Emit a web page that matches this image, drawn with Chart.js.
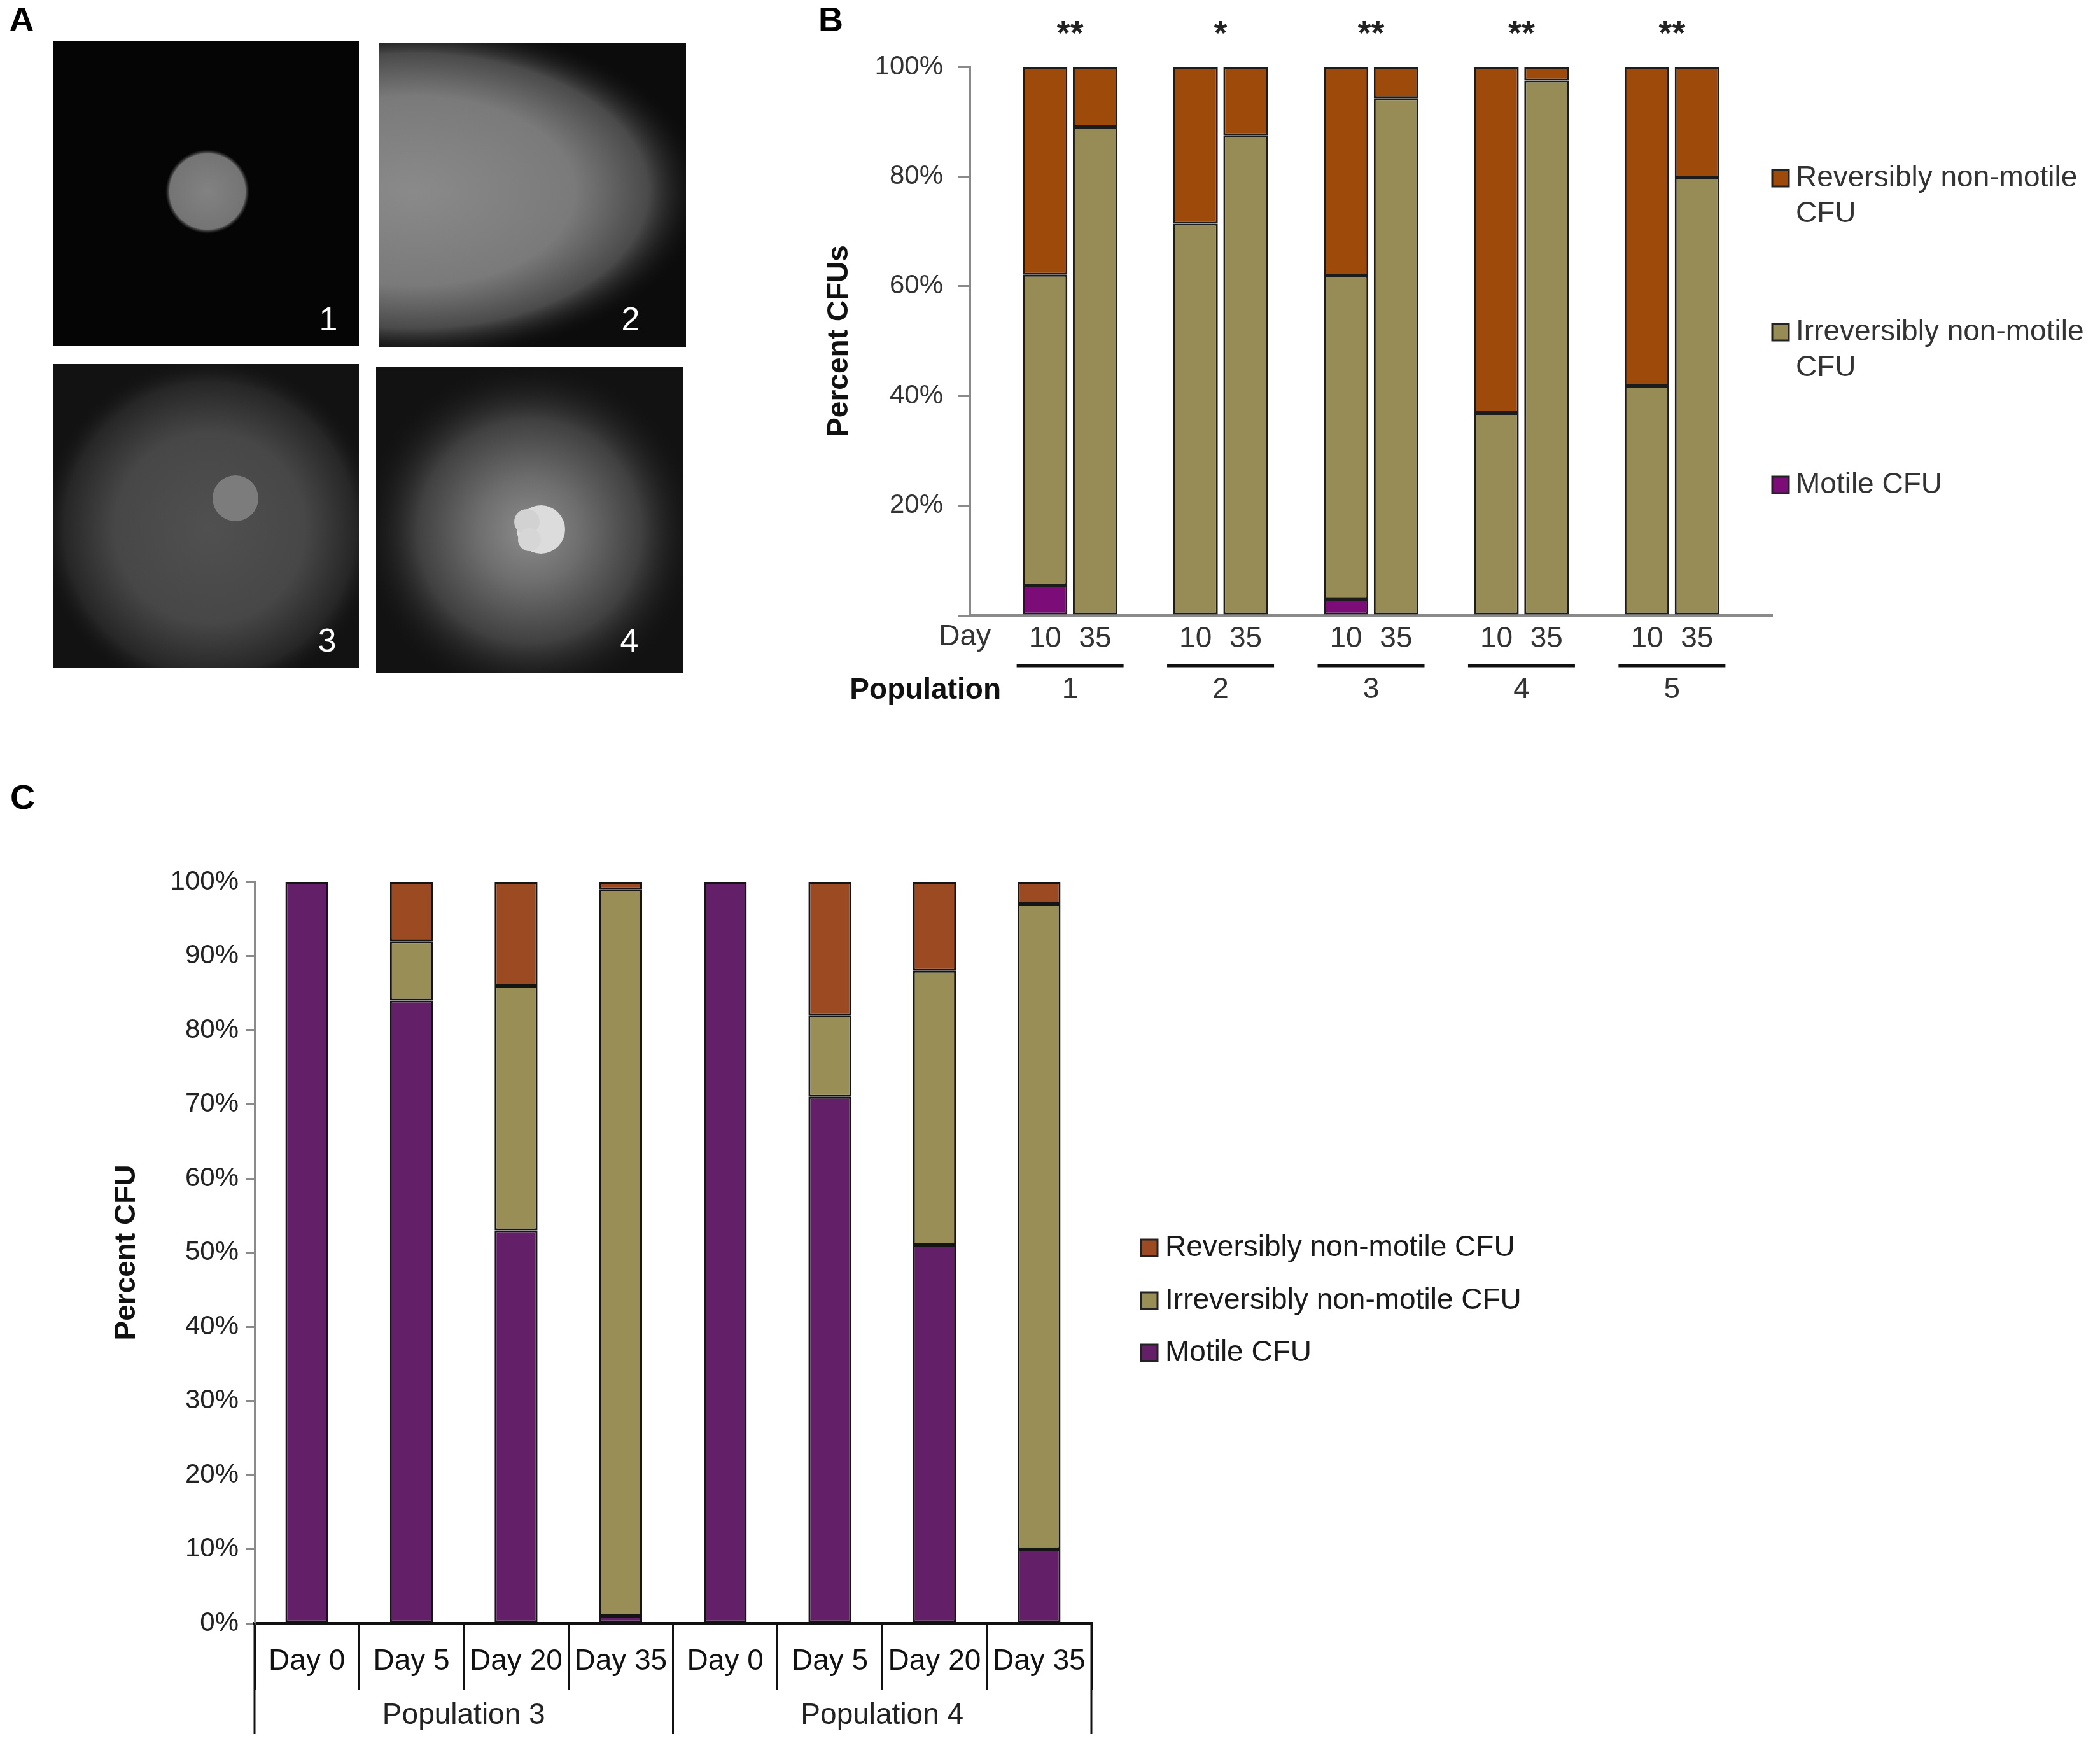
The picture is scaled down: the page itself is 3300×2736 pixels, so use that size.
<!DOCTYPE html>
<html>
<head>
<meta charset="utf-8">
<script src="https://cdn.jsdelivr.net/npm/chart.js@4/dist/chart.umd.min.js"></script>
<style>
  html, body { margin: 0; padding: 0; background: #fff; }
  body { width: 3300px; height: 2736px; position: relative; overflow: hidden; }
  canvas { position: absolute; }
</style>
</head>
<body>
<canvas id="photos" width="1250" height="1120" style="left:0;top:0;width:1250px;height:1120px"></canvas>
<canvas id="chartB" width="2050" height="1150" style="left:1250px;top:0;width:2050px;height:1150px"></canvas>
<canvas id="chartC" width="3300" height="1536" style="left:0;top:1200px;width:3300px;height:1536px"></canvas>
<script>
var FONT = "'Liberation Sans', Arial, sans-serif";

// panel B: populations 1-5, day 10 and day 35 per population
var bPopulations = ["1", "2", "3", "4", "5"];
var bDays = ["10", "35"];
var bStars = ["**", "*", "**", "**", "**"];
var bMotile = [5.5, 0, 0, 0, 3.0, 0, 0, 0, 0, 0];
var bIrreversible = [56.6, 89.0, 71.4, 87.5, 58.9, 94.3, 36.9, 97.5, 41.8, 79.8];
var bReversible = [37.9, 11.0, 28.6, 12.5, 38.1, 5.7, 63.1, 2.5, 58.2, 20.2];

// panel C: populations 3 and 4 over time
var cGroups = ["Population 3", "Population 4"];
var cDays = ["Day 0", "Day 5", "Day 20", "Day 35"];
var cMotile = [100, 84, 53, 1, 100, 71, 51, 10];
var cIrreversible = [0, 8, 33, 98, 0, 11, 37, 87];
var cReversible = [0, 8, 14, 1, 0, 18, 12, 3];

var seriesNames = ["Motile CFU", "Irreversibly non-motile CFU", "Reversibly non-motile CFU"];

// ---------- panel A : plate photos ----------
function drawPhotos() {
    var ctx = document.getElementById("photos").getContext("2d");
    function plate(x, y, w, h, bg, paint) {
        ctx.save();
        ctx.beginPath();
        ctx.rect(x, y, w, h);
        ctx.clip();
        ctx.fillStyle = bg;
        ctx.fillRect(x, y, w, h);
        paint();
        ctx.restore();
    }
    function halo(cx, cy, rx, ry, stops) {
        ctx.save();
        ctx.translate(cx, cy);
        ctx.scale(1, ry / rx);
        var g = ctx.createRadialGradient(0, 0, 0, 0, 0, rx);
        stops.forEach(function (s) { g.addColorStop(s[0], s[1]); });
        ctx.fillStyle = g;
        ctx.beginPath();
        ctx.arc(0, 0, rx, 0, Math.PI * 2);
        ctx.fill();
        ctx.restore();
    }
    function disc(cx, cy, r, col) {
        ctx.fillStyle = col;
        ctx.beginPath();
        ctx.arc(cx, cy, r, 0, Math.PI * 2);
        ctx.fill();
    }

    plate(84, 65, 480, 478, "#050505", function () {
        halo(326, 301, 66, 66, [[0, "#828282"], [0.9, "#747474"], [1, "rgba(60,60,60,0)"]]);
    });
    plate(596, 67, 482, 478, "#0c0c0c", function () {
        halo(650, 300, 460, 270, [[0, "#8a8a8a"], [0.55, "#7a7a7a"], [0.8, "#4a4a4a"], [1, "rgba(12,12,12,0)"]]);
    });
    plate(84, 572, 480, 478, "#121212", function () {
        halo(330, 830, 270, 270, [[0, "#505050"], [0.55, "#474747"], [0.85, "#262626"], [1, "rgba(18,18,18,0)"]]);
        disc(370, 783, 36, "#7c7c7c");
    });
    plate(591, 577, 482, 480, "#121212", function () {
        halo(832, 835, 270, 270, [[0, "#8c8c8c"], [0.3, "#6e6e6e"], [0.65, "#404040"], [1, "rgba(18,18,18,0)"]]);
        disc(850, 832, 38, "#dcdcdc");
        disc(828, 820, 20, "#d2d2d2");
        disc(832, 848, 18, "#d6d6d6");
    });

    ctx.fillStyle = "#fff";
    ctx.font = "52px " + FONT;
    ctx.textAlign = "center";
    ctx.textBaseline = "middle";
    ctx.fillText("1", 516, 505);
    ctx.fillText("2", 991, 505);
    ctx.fillText("3", 514, 1010);
    ctx.fillText("4", 989, 1010);

    ctx.fillStyle = "#000";
    ctx.font = "bold 54px " + FONT;
    ctx.fillText("A", 34, 34);
}
drawPhotos();

// legend drawn at a fixed spot beside the plot
var sideLegend = {
    id: "sideLegend",
    afterDraw: function (chart, args, opts) {
        var ctx = chart.ctx;
        ctx.save();
        ctx.font = opts.size + "px " + FONT;
        ctx.textBaseline = "middle";
        ctx.textAlign = "left";
        var sets = chart.data.datasets.slice().reverse();
        sets.forEach(function (ds, i) {
            var y = opts.rows[i];
            ctx.fillStyle = ds.backgroundColor;
            ctx.fillRect(opts.x, y - opts.box / 2, opts.box, opts.box);
            ctx.strokeStyle = "#222";
            ctx.lineWidth = 3;
            ctx.strokeRect(opts.x, y - opts.box / 2, opts.box, opts.box);
            var lines = [ds.label];
            if (opts.maxWidth && ctx.measureText(ds.label).width > opts.maxWidth) {
                var words = ds.label.split(" ");
                lines = [words.slice(0, -1).join(" "), words[words.length - 1]];
            }
            ctx.fillStyle = opts.color;
            lines.forEach(function (ln, k) {
                ctx.fillText(ln, opts.textX, y + k * opts.lineGap);
            });
        });
        ctx.restore();
    }
};

// ---------- panel B ----------
function spaced(arr) {
    var out = [null];
    for (var p = 0; p < bPopulations.length; p++) {
        for (var d = 0; d < bDays.length; d++) out.push(arr[p * bDays.length + d]);
        out.push(null);
    }
    return out;
}
var bLabels = [""];
bPopulations.forEach(function () {
    bDays.forEach(function (d) { bLabels.push(d); });
    bLabels.push("");
});

var bAnnotations = {
    id: "bAnnotations",
    afterDraw: function (chart) {
        var ctx = chart.ctx, a = chart.chartArea, x = chart.scales.x;
        ctx.save();
        ctx.textBaseline = "middle";
        ctx.fillStyle = "#000";
        ctx.font = "bold 54px " + FONT;
        ctx.textAlign = "left";
        ctx.fillText("B", 36, 34);

        ctx.fillStyle = "#333";
        ctx.font = "46px " + FONT;
        ctx.textAlign = "right";
        ctx.fillText("Day", a.left + 33, a.bottom + 34);
        ctx.fillStyle = "#111";
        ctx.font = "bold 46px " + FONT;
        ctx.fillText("Population", a.left + 49, a.bottom + 118);

        bPopulations.forEach(function (p, i) {
            var i0 = 1 + i * 3;
            var cx = (x.getPixelForValue(i0) + x.getPixelForValue(i0 + 1)) / 2;
            ctx.strokeStyle = "#111";
            ctx.lineWidth = 5;
            ctx.beginPath();
            ctx.moveTo(cx - 84, a.bottom + 79);
            ctx.lineTo(cx + 84, a.bottom + 79);
            ctx.stroke();
            ctx.textAlign = "center";
            ctx.fillStyle = "#333";
            ctx.font = "46px " + FONT;
            ctx.fillText(p, cx, a.bottom + 117);
            ctx.fillStyle = "#222";
            ctx.font = "bold 54px " + FONT;
            ctx.fillText(bStars[i], cx, a.top - 50);
        });
        ctx.restore();
    }
};

new Chart(document.getElementById("chartB"), {
    type: "bar",
    data: {
        labels: bLabels,
        datasets: [
            { label: seriesNames[0], data: spaced(bMotile), backgroundColor: "#7b0c78" },
            { label: seriesNames[1], data: spaced(bIrreversible), backgroundColor: "#978c55" },
            { label: seriesNames[2], data: spaced(bReversible), backgroundColor: "#9e4a0a" },
        ],
    },
    options: {
        responsive: false,
        animation: false,
        devicePixelRatio: 1,
        layout: { padding: { top: 105, right: 515, bottom: 0, left: 0 } },
        datasets: {
            bar: {
                categoryPercentage: 1,
                barPercentage: 0.89,
                borderColor: "#1c1c1c",
                borderWidth: 3,
                borderSkipped: false,
            },
        },
        plugins: {
            legend: { display: false },
            tooltip: { enabled: false },
            sideLegend: {
                x: 1535, textX: 1572, box: 26, size: 46, color: "#333",
                rows: [280, 522, 762], lineGap: 56, maxWidth: 470,
            },
        },
        scales: {
            x: {
                stacked: true,
                afterFit: function (s) { s.height = 183; },
                grid: { display: false },
                border: { display: true, color: "#8a8a8a", width: 4 },
                ticks: {
                    autoSkip: false, maxRotation: 0, padding: 2,
                    color: "#333", font: { size: 46, family: FONT },
                },
            },
            y: {
                stacked: true,
                min: 0,
                max: 100,
                afterFit: function (s) { s.width = 274; },
                grid: { drawOnChartArea: false, drawTicks: true, tickLength: 18, color: "#8a8a8a", lineWidth: 3 },
                border: { display: true, color: "#8a8a8a", width: 4 },
                ticks: {
                    stepSize: 20, padding: 24, color: "#333",
                    font: { size: 42, family: FONT },
                    callback: function (v) { return v === 0 ? "" : v + "%"; },
                },
                title: {
                    display: true, text: "Percent CFUs", color: "#111",
                    font: { size: 46, weight: "bold", family: FONT },
                    padding: { top: 42, bottom: 0 },
                },
            },
        },
    },
    plugins: [sideLegend, bAnnotations],
});

// ---------- panel C ----------
var cLabels = [];
cGroups.forEach(function () {
    cDays.forEach(function (d) { cLabels.push(d); });
});

var cAnnotations = {
    id: "cAnnotations",
    afterDraw: function (chart) {
        var ctx = chart.ctx, a = chart.chartArea, x = chart.scales.x;
        var slot = x.getPixelForValue(1) - x.getPixelForValue(0);
        ctx.save();
        ctx.textBaseline = "middle";
        ctx.fillStyle = "#000";
        ctx.font = "bold 54px " + FONT;
        ctx.textAlign = "left";
        ctx.fillText("C", 16, 56);

        ctx.strokeStyle = "#111";
        ctx.lineWidth = 3;
        for (var g = 0; g <= cGroups.length; g++) {
            var gx = x.getPixelForValue(g * cDays.length) - slot / 2;
            ctx.beginPath();
            ctx.moveTo(gx, a.bottom);
            ctx.lineTo(gx, a.bottom + 174);
            ctx.stroke();
        }
        ctx.fillStyle = "#222";
        ctx.font = "46px " + FONT;
        ctx.textAlign = "center";
        cGroups.forEach(function (name, g) {
            var first = x.getPixelForValue(g * cDays.length);
            var last = x.getPixelForValue((g + 1) * cDays.length - 1);
            ctx.fillText(name, (first + last) / 2, a.bottom + 145);
        });
        ctx.restore();
    }
};

new Chart(document.getElementById("chartC"), {
    type: "bar",
    data: {
        labels: cLabels,
        datasets: [
            { label: seriesNames[0], data: cMotile, backgroundColor: "#632068" },
            { label: seriesNames[1], data: cIrreversible, backgroundColor: "#988e56" },
            { label: seriesNames[2], data: cReversible, backgroundColor: "#9c4a22" },
        ],
    },
    options: {
        responsive: false,
        animation: false,
        devicePixelRatio: 1,
        layout: { padding: { top: 186, right: 1585, bottom: 0, left: 0 } },
        datasets: {
            bar: {
                categoryPercentage: 1,
                barPercentage: 0.41,
                borderColor: "#151515",
                borderWidth: 3,
                borderSkipped: false,
            },
        },
        plugins: {
            legend: { display: false },
            tooltip: { enabled: false },
            sideLegend: {
                x: 1793, textX: 1831, box: 26, size: 46, color: "#1a1a1a",
                rows: [761, 844, 926], lineGap: 56,
            },
        },
        scales: {
            x: {
                stacked: true,
                afterFit: function (s) { s.height = 185; },
                grid: { drawOnChartArea: false, drawTicks: true, tickLength: 105, color: "#111", lineWidth: 3 },
                border: { display: true, color: "#111", width: 4 },
                ticks: {
                    autoSkip: false, maxRotation: 0, padding: -72,
                    color: "#111", font: { size: 46, family: FONT },
                },
            },
            y: {
                stacked: true,
                min: 0,
                max: 100,
                afterFit: function (s) { s.width = 400; },
                grid: { drawOnChartArea: false, drawTicks: true, tickLength: 14, color: "#8a8a8a", lineWidth: 3 },
                border: { display: true, color: "#8a8a8a", width: 3 },
                ticks: {
                    stepSize: 10, padding: 11, color: "#222",
                    font: { size: 42, family: FONT },
                    callback: function (v) { return v + "%"; },
                },
                title: {
                    display: true, text: "Percent CFU", color: "#111",
                    font: { size: 46, weight: "bold", family: FONT },
                    padding: { top: 172, bottom: 0 },
                },
            },
        },
    },
    plugins: [sideLegend, cAnnotations],
});
</script>
</body>
</html>
